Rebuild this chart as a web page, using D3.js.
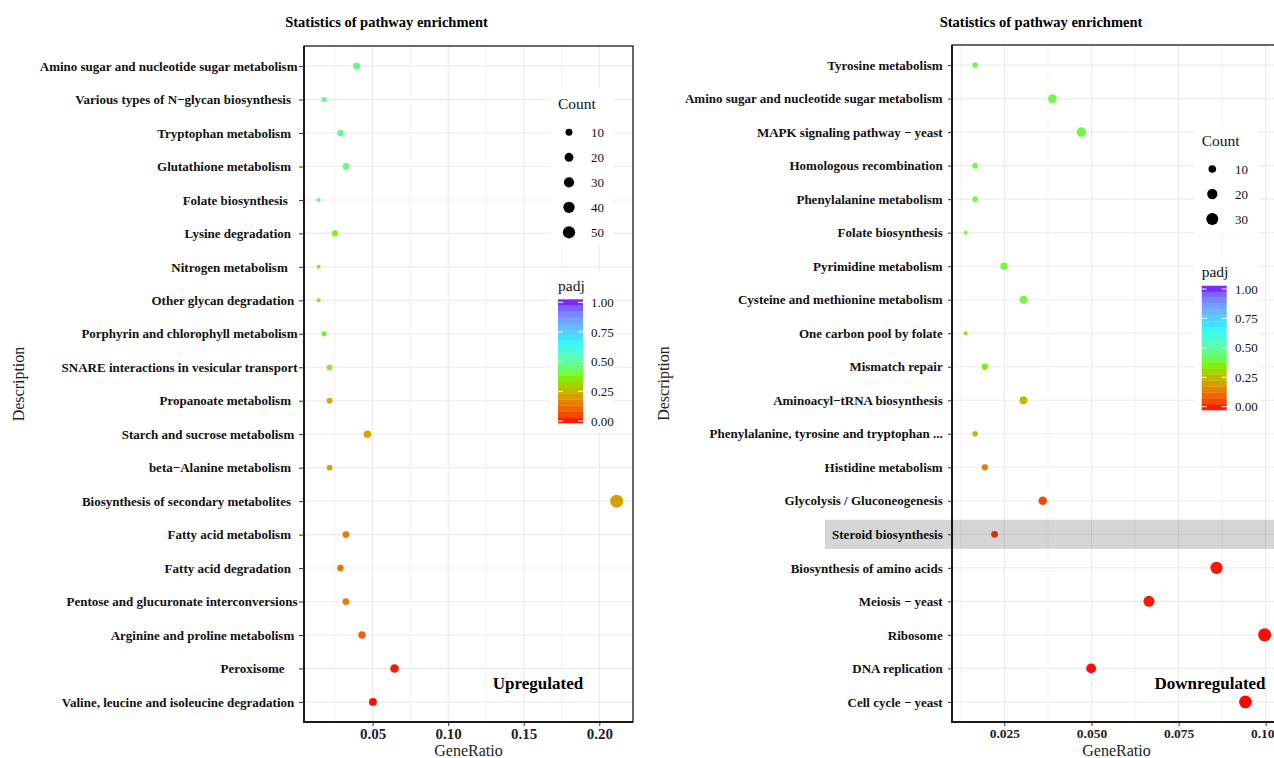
<!DOCTYPE html>
<html>
<head>
<meta charset="utf-8">
<script src="https://cdn.jsdelivr.net/npm/d3@7"></script>
<style>
  html, body { margin: 0; padding: 0; background: #fff; }
  svg { display: block; }
  text { font-family: "Liberation Serif", "Times New Roman", serif; white-space: pre; }
</style>
</head>
<body>
<svg id="chart" width="1274" height="758"></svg>
<script>
// ---------------- DATA ----------------
const upCategories = [
  "Amino sugar and nucleotide sugar metabolism",
  "Various types of N\u2212glycan biosynthesis  ",
  "Tryptophan metabolism  ",
  "Glutathione metabolism  ",
  "Folate biosynthesis   ",
  "Lysine degradation  ",
  "Nitrogen metabolism   ",
  "Other glycan degradation ",
  "Porphyrin and chlorophyll metabolism",
  "SNARE interactions in vesicular transport",
  "Propanoate metabolism  ",
  "Starch and sucrose metabolism ",
  "beta\u2212Alanine metabolism  ",
  "Biosynthesis of secondary metabolites  ",
  "Fatty acid metabolism  ",
  "Fatty acid degradation  ",
  "Pentose and glucuronate interconversions",
  "Arginine and proline metabolism ",
  "Peroxisome    ",
  "Valine, leucine and isoleucine degradation "
];
const upGeneRatio = [0.0394, 0.0179, 0.0287, 0.0323, 0.0143, 0.0251, 0.0143, 0.0143, 0.0179, 0.0215,
                     0.0215, 0.0466, 0.0215, 0.2115, 0.0323, 0.0287, 0.0323, 0.0430, 0.0645, 0.0502];
const upCount     = [11, 5, 8, 9, 4, 7, 4, 4, 5, 6, 6, 13, 6, 59, 9, 8, 9, 12, 18, 14];
const upPadj      = [0.47, 0.47, 0.48, 0.47, 0.46, 0.36, 0.35, 0.35, 0.37, 0.37,
                     0.24, 0.23, 0.23, 0.22, 0.15, 0.14, 0.15, 0.11, 0.02, 0.01];

const downCategories = [
  "Tyrosine metabolism",
  "Amino sugar and nucleotide sugar metabolism",
  "MAPK signaling pathway \u2212 yeast",
  "Homologous recombination",
  "Phenylalanine metabolism",
  "Folate biosynthesis",
  "Pyrimidine metabolism",
  "Cysteine and methionine metabolism",
  "One carbon pool by folate",
  "Mismatch repair",
  "Aminoacyl\u2212tRNA biosynthesis",
  "Phenylalanine, tyrosine and tryptophan ...",
  "Histidine metabolism",
  "Glycolysis / Gluconeogenesis",
  "Steroid biosynthesis",
  "Biosynthesis of amino acids",
  "Meiosis \u2212 yeast",
  "Ribosome",
  "DNA replication",
  "Cell cycle \u2212 yeast"
];
const downGeneRatio = [0.0166, 0.0388, 0.0471, 0.0166, 0.0166, 0.0139, 0.0249, 0.0305, 0.0139, 0.0194,
                       0.0305, 0.0166, 0.0194, 0.0360, 0.0222, 0.0859, 0.0665, 0.0997, 0.0499, 0.0942];
const downCount     = [6, 14, 17, 6, 6, 5, 9, 11, 5, 7, 11, 6, 7, 13, 8, 31, 24, 36, 18, 34];
const downPadj      = [0.41, 0.41, 0.41, 0.41, 0.41, 0.39, 0.40, 0.41, 0.34, 0.35,
                       0.27, 0.27, 0.16, 0.07, 0.06, 0.02, 0.02, 0.01, 0.01, 0.005];
const downHighlight = ["Steroid biosynthesis"];

const upXTicks = [0.05, 0.10, 0.15, 0.20];
const upXMinor = [0.025, 0.075, 0.125, 0.175];
const downXTicks = [0.025, 0.050, 0.075, 0.100];
const downXMinor = [0.0125, 0.0375, 0.0625, 0.0875];
const upCountLegend = [10, 20, 30, 40, 50];
const downCountLegend = [10, 20, 30];
const padjTicks = [0, 0.25, 0.5, 0.75, 1];

const padjStops  = [0, 0.05, 0.1, 0.15, 0.2, 0.25, 0.3, 0.35, 0.4, 0.45, 0.5,
                    0.55, 0.6, 0.65, 0.7, 0.75, 0.8, 0.85, 0.9, 0.95, 1];
const padjColors = ["#ff0000", "#f83a00", "#f05c00", "#e87800", "#dc9600", "#cbb200", "#a8cc00",
                    "#86ec00", "#74fa3c", "#66fd72", "#5efea0", "#52fec4", "#44fce0", "#36f6f6",
                    "#40e0ff", "#56caff", "#6cb2ff", "#7698ff", "#787eff", "#7c56ff", "#8000ff"];

// ---------------- DRAW ----------------
const svg = d3.select("#chart");
const color = d3.scaleLinear().domain(padjStops).range(padjColors).interpolate(d3.interpolateRgb);

function drawPanel(cfg) {
  const g = svg.append("g");
  const x = d3.scaleLinear().domain(cfg.xDomain).range([cfg.x0, cfg.x1]);
  const y = d3.scalePoint().domain(cfg.cats).range([cfg.y0, cfg.y1]).padding(0.6);
  const norm = d3.scaleLinear().domain(d3.extent(cfg.count)).range([0, 1]);
  const rr = d3.scaleLinear().domain([0, 1]).range([2, 6.5]);
  const r = c => rr(Math.sqrt(Math.max(0, norm(c))));

  const clipId = "clip" + cfg.id;
  svg.append("clipPath").attr("id", clipId).append("rect")
    .attr("x", cfg.x0).attr("y", cfg.y0).attr("width", cfg.x1 - cfg.x0).attr("height", cfg.y1 - cfg.y0);

  const panel = g.append("g").attr("clip-path", `url(#${clipId})`);
  panel.append("rect").attr("x", cfg.x0).attr("y", cfg.y0)
    .attr("width", cfg.x1 - cfg.x0).attr("height", cfg.y1 - cfg.y0).attr("fill", "#fff");

  // minor vertical grid
  panel.selectAll(".vmin").data(cfg.minor).join("line")
    .attr("x1", d => x(d)).attr("x2", d => x(d)).attr("y1", cfg.y0).attr("y2", cfg.y1)
    .attr("stroke", "#f0f0f0").attr("stroke-width", 0.8);
  // major vertical grid
  panel.selectAll(".vmaj").data(cfg.ticks).join("line")
    .attr("x1", d => x(d)).attr("x2", d => x(d)).attr("y1", cfg.y0).attr("y2", cfg.y1)
    .attr("stroke", "#ebebeb").attr("stroke-width", 1.1);
  // horizontal grid
  panel.selectAll(".hmaj").data(cfg.cats).join("line")
    .attr("x1", cfg.x0).attr("x2", cfg.x1).attr("y1", d => y(d)).attr("y2", d => y(d))
    .attr("stroke", "#ebebeb").attr("stroke-width", 1.1);

  // points
  const pts = cfg.cats.map((c, i) => ({ cat: c, ratio: cfg.ratio[i], count: cfg.count[i], padj: cfg.padj[i] }));
  panel.selectAll("circle.pt").data(pts).join("circle").attr("class", "pt")
    .attr("cx", d => x(d.ratio)).attr("cy", d => y(d.cat)).attr("r", d => r(d.count))
    .attr("fill", d => color(d.padj));

  // legends (inside panel)
  const L = cfg.legend;
  panel.append("rect").attr("x", L.boxX).attr("y", L.countTop).attr("width", L.boxW)
    .attr("height", L.countBottom - L.countTop).attr("fill", "#fff");
  panel.append("rect").attr("x", L.boxX).attr("y", L.padjTop).attr("width", L.boxW)
    .attr("height", L.padjBottom - L.padjTop).attr("fill", "#fff");

  panel.append("text").attr("x", L.titleX).attr("y", L.countTitleY)
    .attr("font-size", 15.5).attr("fill", "#111").text("Count");
  const ly = d3.scalePoint().domain(cfg.countLegend).range([L.dot0, L.dot0 + L.dotStep * (cfg.countLegend.length - 1)]);
  panel.selectAll("circle.leg").data(cfg.countLegend).join("circle").attr("class", "leg")
    .attr("cx", L.dotX).attr("cy", d => ly(d)).attr("r", d => r(d)).attr("fill", "#000");
  panel.selectAll("text.leg").data(cfg.countLegend).join("text").attr("class", "leg")
    .attr("x", L.labX).attr("y", d => ly(d)).attr("dy", "0.35em")
    .attr("font-size", 13).attr("fill", "#111").text(d => d);

  panel.append("text").attr("x", L.titleX).attr("y", L.padjTitleY)
    .attr("font-size", 15.5).attr("fill", "#111").text("padj");
  const nbin = 21;
  const barY = d3.scaleLinear().domain([0, 1]).range([L.bar0, L.bar1]);
  const binH = (L.barBottom - L.barTop) / nbin;
  panel.selectAll("rect.bin").data(d3.range(nbin)).join("rect").attr("class", "bin")
    .attr("x", L.barX).attr("width", L.barW)
    .attr("y", i => L.barBottom - (i + 1) * binH).attr("height", binH + 0.3)
    .attr("fill", i => color((i + 0.5) / nbin));
  panel.selectAll("line.tkl").data(padjTicks).join("line").attr("class", "tkl")
    .attr("x1", L.barX).attr("x2", L.barX + L.barW * 0.2).attr("y1", d => barY(d)).attr("y2", d => barY(d))
    .attr("stroke", "#fff").attr("stroke-width", 1);
  panel.selectAll("line.tkr").data(padjTicks).join("line").attr("class", "tkr")
    .attr("x1", L.barX + L.barW * 0.8).attr("x2", L.barX + L.barW).attr("y1", d => barY(d)).attr("y2", d => barY(d))
    .attr("stroke", "#fff").attr("stroke-width", 1);
  panel.selectAll("text.pl").data(padjTicks).join("text").attr("class", "pl")
    .attr("x", L.labX).attr("y", d => barY(d)).attr("dy", "0.35em")
    .attr("font-size", 13).attr("fill", "#111").text(d => d3.format(".2f")(d));

  // panel annotation
  panel.append("text").attr("x", cfg.tagX).attr("y", cfg.tagY).attr("text-anchor", "middle")
    .attr("font-size", 17).attr("font-weight", "bold").attr("fill", "#000").text(cfg.tag);

  // border
  g.append("rect").attr("x", cfg.x0).attr("y", cfg.y0)
    .attr("width", cfg.x1 - cfg.x0).attr("height", cfg.y1 - cfg.y0)
    .attr("fill", "none").attr("stroke", "#1a1a1a").attr("stroke-width", 1.3);
  g.append("line").attr("x1", cfg.x0).attr("x2", cfg.x0).attr("y1", cfg.y0).attr("y2", cfg.y1 + 1)
    .attr("stroke", "#1a1a1a").attr("stroke-width", 2);
  g.append("line").attr("x1", cfg.x0 - 1).attr("x2", cfg.x1).attr("y1", cfg.y1).attr("y2", cfg.y1)
    .attr("stroke", "#1a1a1a").attr("stroke-width", 2);

  // axes
  const ax = g.append("g").attr("transform", `translate(0,${cfg.y1})`)
    .call(d3.axisBottom(x).tickValues(cfg.ticks).tickFormat(d3.format(cfg.fmt)).tickSize(4).tickPadding(2));
  ax.select(".domain").remove();
  ax.selectAll("line").attr("stroke", "#333");
  ax.selectAll("text").attr("font-size", cfg.xFont).attr("font-weight", "bold")
    .attr("fill", "#222").style("font-family", '"Liberation Serif", serif');

  const ay = g.append("g").attr("transform", `translate(${cfg.x0},0)`)
    .call(d3.axisLeft(y).tickSize(cfg.ytick).tickPadding(cfg.ypad));
  ay.select(".domain").remove();
  ay.selectAll("line").attr("stroke", "#333");
  ay.selectAll("text").attr("font-size", 13).attr("font-weight", "bold")
    .attr("fill", "#111").style("font-family", '"Liberation Serif", serif').style("white-space", "pre");

  // highlight band
  if (cfg.highlight) {
    g.selectAll("rect.hl").data(cfg.highlight).join("rect").attr("class", "hl")
      .attr("x", cfg.bandX0).attr("width", 1274 - cfg.bandX0)
      .attr("y", d => y(d) - y.step() * 0.435).attr("height", y.step() * 0.87)
      .attr("fill", "#000").attr("fill-opacity", 0.165);
  }

  // titles
  g.append("text").attr("x", cfg.titleX).attr("y", 26.5).attr("text-anchor", "middle")
    .attr("font-size", 14.5).attr("font-weight", "bold").attr("fill", "#000")
    .text("Statistics of pathway enrichment");
  g.append("text").attr("x", (cfg.x0 + cfg.x1) / 2).attr("y", 756).attr("text-anchor", "middle")
    .attr("font-size", 16).attr("fill", "#222").text("GeneRatio");
  g.append("text").attr("transform", `translate(${cfg.descX},${(cfg.y0 + cfg.y1) / 2}) rotate(-90)`)
    .attr("text-anchor", "middle").attr("font-size", 16).attr("fill", "#222").text("Description");
}

drawPanel({
  id: "up", cats: upCategories, ratio: upGeneRatio, count: upCount, padj: upPadj,
  x0: 304, x1: 633, y0: 46, y1: 722, xDomain: [0.0046, 0.2223],
  ticks: upXTicks, minor: upXMinor, fmt: ".2f", xFont: 15, ytick: 5, ypad: 1.5,
  countLegend: upCountLegend, tag: "Upregulated", tagX: 538, tagY: 689,
  titleX: 386.5, descX: 24,
  legend: { boxX: 550, boxW: 63, countTop: 88, countBottom: 245, padjTop: 271, padjBottom: 433,
            titleX: 558, countTitleY: 109, dotX: 569, dot0: 132.3, dotStep: 25, labX: 591,
            padjTitleY: 291, barX: 558, barW: 25, barTop: 299.3, barBottom: 423, bar0: 421, bar1: 302.3 }
});

drawPanel({
  id: "down", cats: downCategories, ratio: downGeneRatio, count: downCount, padj: downPadj,
  x0: 952, x1: 1281, y0: 45, y1: 722, xDomain: [0.00997, 0.1044],
  ticks: downXTicks, minor: downXMinor, fmt: ".3f", xFont: 13.5, ytick: 4, ypad: 5.3,
  countLegend: downCountLegend, tag: "Downregulated", tagX: 1210, tagY: 689,
  titleX: 1041, descX: 669, highlight: downHighlight, bandX0: 825,
  legend: { boxX: 1194, boxW: 64, countTop: 125, countBottom: 233, padjTop: 256, padjBottom: 420,
            titleX: 1201.7, countTitleY: 146, dotX: 1212.3, dot0: 169, dotStep: 25, labX: 1235,
            padjTitleY: 277, barX: 1201.7, barW: 25, barTop: 285.7, barBottom: 410, bar0: 406.7, bar1: 289 }
});
</script>
</body>
</html>
